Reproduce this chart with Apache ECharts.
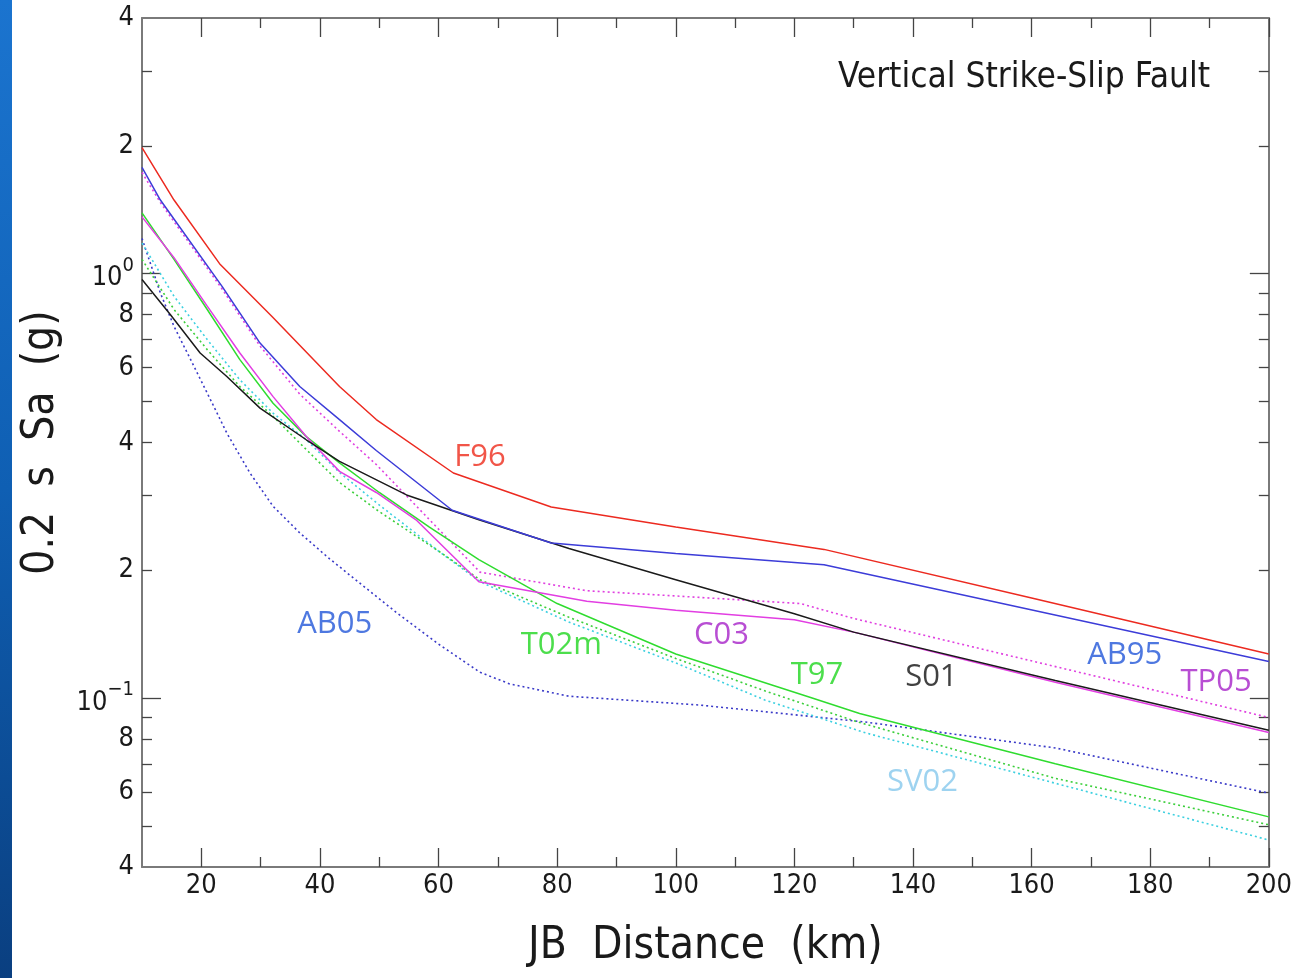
<!DOCTYPE html>
<html>
<head>
<meta charset="utf-8">
<script src="https://cdn.jsdelivr.net/npm/echarts@6/dist/echarts.min.js"></script>
<style>
html,body{margin:0;padding:0;background:#fff;}
#chart{width:1295px;height:978px;}
</style>
</head>
<body>
<div id="chart"></div>
<script>
// ---- Data (distance km, Sa g) ----
const F96  = [[10,1.98],[15.4,1.49],[23.2,1.05],[32,0.79],[43.3,0.542],[49.5,0.453],[62.5,0.339],[79,0.282],[100,0.253],[125,0.224],[160,0.172],[200,0.127]];
const AB95 = [[10,1.78],[13.1,1.49],[23.5,0.933],[29.9,0.686],[36.6,0.542],[43.3,0.453],[49.5,0.383],[62.3,0.277],[79,0.232],[100,0.219],[125,0.206],[200,0.122]];
const TP05 = [[10,1.73],[13.1,1.47],[23.5,0.92],[29.9,0.675],[36.6,0.52],[43.3,0.425],[49.5,0.355],[67,0.198],[85,0.179],[100,0.174],[121,0.167],[130,0.154],[200,0.09]];
const S01  = [[10,0.968],[14.8,0.80],[19.8,0.65],[24.3,0.572],[29.9,0.482],[37.7,0.406],[43.3,0.361],[54.6,0.301],[66.8,0.263],[82,0.225],[100,0.19],[120,0.158],[130,0.143],[164,0.11],[200,0.084]];
const C03  = [[10,1.36],[15.4,1.09],[21,0.838],[26.5,0.65],[32.1,0.513],[37.7,0.413],[43.3,0.342],[49.5,0.305],[56.2,0.263],[66.8,0.188],[85,0.169],[100,0.161],[120,0.153],[130,0.143],[164,0.109],[200,0.083]];
const T97  = [[10,1.39],[15.4,1.08],[21,0.823],[26.5,0.627],[32.1,0.495],[37.7,0.413],[43.3,0.358],[50,0.305],[58.4,0.253],[66.8,0.212],[80,0.167],[100,0.127],[123,0.1],[131,0.092],[164,0.07],[200,0.0525]];
const T02m = [[10,1.08],[15.4,0.823],[21,0.662],[26.5,0.542],[32.1,0.461],[37.7,0.385],[43.3,0.322],[50,0.275],[60,0.222],[67,0.19],[82,0.155],[100,0.124],[115,0.104],[130.5,0.088],[164,0.0647],[200,0.0503]];
const SV02 = [[10,1.18],[15.4,0.884],[21,0.699],[26.5,0.562],[32.1,0.469],[37.7,0.406],[43.3,0.34],[50,0.285],[60,0.222],[67,0.188],[82,0.151],[100,0.121],[115,0.099],[132,0.0828],[164,0.063],[200,0.0463]];
const AB05 = [[10,1.21],[13.1,0.90],[15.4,0.751],[18.2,0.627],[21,0.523],[24.3,0.421],[28.2,0.339],[32.1,0.283],[36.6,0.245],[41.6,0.213],[52.9,0.159],[60,0.134],[67,0.115],[72,0.108],[82,0.101],[104,0.0963],[132,0.0878],[164,0.0763],[200,0.0597]];

// curve labels
const labelNames = ['F96','AB05','T02m','C03','T97','S01','AB95','TP05','SV02'];
const labelX     = [67, 42.5, 80.7, 107.7, 123.8, 143.1, 175.7, 191.1, 141.6];
const labelY     = [0.370, 0.149, 0.133, 0.141, 0.113, 0.112, 0.126, 0.109, 0.0635];

// ticks
const xMajor = [20,40,60,80,100,120,140,160,180,200];
const xMinor = [30,50,70,90,110,130,150,170,190];
const yMajor = [0.1, 1];
const yMinor = [0.05,0.06,0.07,0.08,0.09,0.2,0.3,0.4,0.5,0.6,0.7,0.8,0.9,2,3];
const yLabelVals = [0.04,0.06,0.08,0.1,0.2,0.4,0.6,0.8,1,2,4];
const yLabelText = ['4','6','8','{b|10}{s|\u22121}','2','4','6','8','{b|10}{s|0}','2','4'];

const AXFONT = '"DejaVu Sans Condensed","Liberation Sans Narrow",sans-serif';
const LBLFONT = '"Open Sans","Noto Sans",sans-serif';

const lineColor = '#7a7a7a';

function xAx(pos, ticks, len, showLine, showLabel){
  return {
    type:'value', position:pos, min:10, max:200,
    axisLine:{show:showLine, lineStyle:{color:lineColor, width:2}},
    axisTick:{show:true, inside:true, length:len, customValues:ticks, lineStyle:{color:'#444', width:1.3}},
    axisLabel: showLabel ? {show:true, customValues:xMajor, margin:5, fontSize:27, fontFamily:AXFONT, color:'#1a1a1a'} : {show:false},
    splitLine:{show:false},
    name: (pos==='bottom' && showLabel) ? 'JB  Distance  (km)' : '',
    nameLocation:'middle', nameGap:58,
    nameTextStyle:{fontSize:44, fontFamily:AXFONT, color:'#1a1a1a', verticalAlign:'top'}
  };
}
function yAx(pos, ticks, len, showLine, showLabel){
  return {
    type:'log', logBase:10, position:pos, min:0.04, max:4,
    axisLine:{show:showLine, lineStyle:{color:lineColor, width:2}},
    axisTick:{show:true, inside:true, length:len, customValues:ticks, lineStyle:{color:'#444', width:1.3}},
    axisLabel: showLabel ? {
      show:true, customValues:yLabelVals, margin:8, fontSize:27, fontFamily:AXFONT, color:'#1a1a1a',
      formatter:function(v){ let i=-1; yLabelVals.forEach((t,k)=>{ if(Math.abs(t-v)/t<1e-6) i=k; }); return i>=0?yLabelText[i]:''; },
      rich:{ b:{fontSize:27, fontFamily:AXFONT, color:'#1a1a1a', lineHeight:36, verticalAlign:'bottom'},
             s:{fontSize:20, fontFamily:AXFONT, color:'#1a1a1a', lineHeight:36, verticalAlign:'top', padding:[0,0,12,0]} }
    } : {show:false},
    splitLine:{show:false},
    name: (pos==='left' && showLabel) ? '0.2  s  Sa  (g)' : '',
    nameLocation:'middle', nameGap:78, nameRotate:90,
    nameTextStyle:{fontSize:44, fontFamily:AXFONT, color:'#1a1a1a'}
  };
}

function line(name, data, color, dotted){
  return {
    name, type:'line', data, xAxisIndex:0, yAxisIndex:0, symbol:'none', silent:true,
    smooth:false,
    lineStyle:{color, width: dotted?1.6:1.5, type: dotted?[2,3]:'solid'},
    z: dotted?2:3
  };
}

const labelColors = {F96:'#ee2a1a', AB05:'#2256d8', T02m:'#1fd61f', C03:'#a622c8', T97:'#1fd61f', S01:'#111111', AB95:'#2256d8', TP05:'#a622c8', SV02:'#86c8ec'};

const chart = echarts.init(document.getElementById('chart'), null, {renderer:'canvas'});
chart.setOption({
  animation:false,
  backgroundColor:'#ffffff',
  graphic:[{
    type:'rect', left:0, top:0, shape:{width:12, height:978}, z:-10,
    style:{fill:new echarts.graphic.LinearGradient(0,0,0,1,[{offset:0,color:'#1b74cf'},{offset:0.5,color:'#0f5fb3'},{offset:1,color:'#0a3f80'}])}
  }],
  title:{
    text:'Vertical Strike-Slip Fault', right:80, top:55,
    textStyle:{fontSize:35, fontWeight:'normal', fontFamily:AXFONT, color:'#1a1a1a'}
  },
  grid:{left:142, right:21, top:18, bottom:111, containLabel:false},
  xAxis:[ xAx('bottom', xMajor, 19, true, true), xAx('bottom', xMinor, 10, false, false),
          xAx('top', xMajor, 19, true, false), xAx('top', xMinor, 10, false, false) ],
  yAxis:[ yAx('left', yMajor, 19, true, true), yAx('left', yMinor, 10, false, false),
          yAx('right', yMajor, 19, true, false), yAx('right', yMinor, 10, false, false) ],
  series:[
    line('AB05', AB05, '#3a3ac8', true),
    line('SV02', SV02, '#3cd0e0', true),
    line('T02m', T02m, '#3ccf3c', true),
    line('TP05', TP05, '#e040e0', true),
    line('T97', T97, '#2fdc2f', false),
    line('C03', C03, '#e23ee2', false),
    line('S01', S01, '#1a1a1a', false),
    line('AB95', AB95, '#3c3cd8', false),
    line('F96', F96, '#ec2a20', false),
    {
      name:'labels', type:'scatter', xAxisIndex:0, yAxisIndex:0, silent:true,
      symbolSize:1, itemStyle:{color:'rgba(0,0,0,0)'}, z:10,
      data: labelNames.map((n,i)=>({name:n, value:[labelX[i], labelY[i]],
        label:{show:true, position:'inside', formatter:'{b}', fontSize:31, fontFamily:LBLFONT, color:labelColors[n]}}))
    }
  ]
});
</script>
</body>
</html>
